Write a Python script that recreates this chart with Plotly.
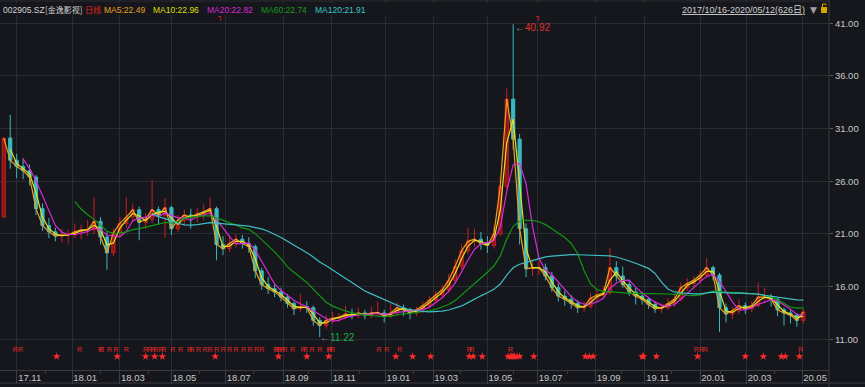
import pandas as pd
import plotly.graph_objects as go

# ---- data: 5-trading-day candles (002905.SZ, 2017/10/16 - 2020/05/12) ----
OPEN = [22.6, 30.1, 28.0, 27.4, 27.0, 26.4, 23.4, 21.8, 21.2, 20.8,
        20.9, 20.9, 21.2, 21.4, 21.4, 22.2, 20.7, 19.2, 21.1, 22.0,
        22.6, 23.3, 22.1, 22.4, 23.3, 22.8, 23.5, 21.5, 22.3, 22.8,
        22.6, 22.9, 23.1, 23.4, 20.0, 19.6, 20.1, 20.5, 20.1, 19.8,
        17.5, 16.2, 15.8, 15.5, 15.0, 14.4, 13.9, 14.1, 14.0, 12.8,
        12.3, 12.8, 13.0, 13.1, 13.4, 13.3, 13.5, 13.3, 13.5, 13.5,
        13.2, 13.5, 14.0, 13.8, 13.5, 13.8, 14.2, 14.7, 15.2, 15.7,
        16.6, 17.9, 19.4, 20.3, 20.5, 20.1, 19.9, 21.0, 25.5, 33.8,
        30.0, 21.5, 17.7, 17.8, 17.8, 17.0, 15.9, 15.1, 14.8, 14.4,
        14.0, 14.1, 14.9, 15.2, 15.4, 17.8, 17.0, 16.2, 15.5, 15.1,
        14.8, 14.3, 13.9, 14.0, 14.4, 14.8, 15.9, 16.3, 16.6, 17.1,
        17.8, 17.1, 14.0, 13.4, 13.7, 14.2, 13.9, 14.2, 15.0, 15.0,
        14.8, 13.8, 13.5, 13.3, 12.8]
HIGH = [30.1, 32.3, 28.6, 28.2, 27.6, 26.6, 23.9, 22.5, 21.6, 21.5,
        21.4, 22.0, 21.9, 22.3, 24.5, 22.6, 21.2, 21.5, 22.6, 24.5,
        23.9, 23.6, 23.0, 26.1, 23.6, 24.4, 23.7, 22.8, 23.3, 23.4,
        23.5, 23.8, 24.5, 23.6, 20.8, 20.9, 21.0, 20.9, 20.7, 20.0,
        17.8, 16.9, 16.2, 15.9, 15.3, 14.6, 15.3, 14.6, 14.2, 13.1,
        13.3, 13.6, 13.5, 14.2, 13.9, 14.0, 13.8, 14.1, 14.6, 13.8,
        14.4, 14.5, 14.3, 14.0, 14.1, 14.6, 15.1, 15.6, 16.2, 17.2,
        18.6, 20.0, 21.6, 21.5, 21.2, 20.8, 21.8, 26.5, 34.8, 40.92,
        30.5, 22.0, 18.6, 18.5, 18.2, 17.4, 16.3, 15.6, 15.2, 14.7,
        14.6, 15.4, 15.7, 16.0, 19.7, 18.4, 17.9, 16.6, 15.9, 15.5,
        15.0, 14.6, 14.4, 14.9, 15.2, 16.4, 16.8, 17.0, 17.5, 18.7,
        18.0, 17.3, 14.4, 14.1, 14.8, 14.5, 14.6, 16.4, 15.9, 15.3,
        14.9, 14.0, 13.8, 13.5, 13.9]
LOW = [22.6, 27.2, 26.3, 26.2, 25.6, 22.8, 21.3, 20.6, 20.3, 20.2,
       20.1, 20.6, 20.5, 20.8, 21.0, 20.0, 17.6, 18.9, 20.6, 21.6,
       22.1, 20.4, 21.5, 22.0, 21.9, 20.6, 20.9, 21.2, 21.8, 21.5,
       22.1, 22.3, 22.7, 18.5, 19.0, 19.3, 19.7, 19.6, 19.2, 16.8,
       15.7, 15.3, 15.0, 14.6, 14.0, 13.3, 13.6, 13.5, 12.3, 11.22,
       12.0, 12.5, 12.7, 12.9, 12.9, 13.0, 12.9, 13.0, 13.2, 12.6,
       13.0, 13.3, 13.2, 12.9, 13.2, 13.5, 13.9, 14.4, 14.9, 15.4,
       16.3, 17.6, 19.1, 19.8, 19.5, 19.2, 19.6, 20.8, 25.3, 29.0,
       20.0, 16.9, 17.0, 17.1, 16.6, 15.5, 14.6, 14.2, 13.9, 13.5,
       13.6, 13.9, 14.5, 14.9, 15.2, 16.5, 15.9, 15.1, 14.3, 14.3,
       13.9, 13.5, 13.5, 13.8, 14.1, 14.6, 15.6, 15.8, 16.3, 16.9,
       16.6, 11.7, 12.6, 12.9, 13.4, 13.4, 13.6, 14.0, 14.5, 14.1,
       13.2, 12.3, 12.5, 12.2, 12.5]
CLOSE = [30.1, 28.0, 27.4, 27.0, 26.4, 23.4, 21.8, 21.2, 20.8, 20.9,
         20.9, 21.2, 21.4, 21.4, 22.2, 20.7, 19.2, 21.1, 22.0, 22.6,
         23.3, 22.1, 22.4, 23.3, 22.8, 23.5, 21.5, 22.3, 22.8, 22.6,
         22.9, 23.1, 23.4, 20.0, 19.6, 20.1, 20.5, 20.1, 19.8, 17.5,
         16.2, 15.8, 15.5, 15.0, 14.4, 13.9, 14.1, 14.0, 12.8, 12.3,
         12.8, 13.0, 13.1, 13.4, 13.3, 13.5, 13.3, 13.5, 13.5, 13.2,
         13.5, 14.0, 13.8, 13.5, 13.8, 14.2, 14.7, 15.2, 15.7, 16.6,
         17.9, 19.4, 20.3, 20.5, 20.1, 19.9, 21.0, 25.5, 33.8, 30.0,
         21.5, 17.7, 17.8, 17.8, 17.0, 15.9, 15.1, 14.8, 14.4, 14.0,
         14.1, 14.9, 15.2, 15.4, 17.8, 17.0, 16.2, 15.5, 15.1, 14.8,
         14.3, 13.9, 14.0, 14.4, 14.8, 15.9, 16.3, 16.6, 17.1, 17.8,
         17.1, 14.0, 13.4, 13.7, 14.2, 13.9, 14.2, 15.0, 15.0, 14.8,
         13.8, 13.5, 13.3, 12.8, 13.6]

MA_NAMES = ["MA5", "MA10", "MA20", "MA60", "MA120"]
MA_DAYS = [5, 10, 20, 60, 120]
MA_HEADER_VALUES = [22.49, 22.96, 22.82, 22.74, 21.91]
MA_COLORS = ["#f0a020", "#e6e020", "#d82ad8", "#119a11", "#3fbcc4"]
MA_TEXT_COLORS = ["#e8a020", "#dede10", "#d828d8", "#1a9a1a", "#3fc4c4"]

# trading-day index of "R" flags and star signals
R_DAYS = [11, 15, 61, 77, 78, 84, 89, 97, 112, 115, 118, 120, 124, 126, 133, 139,
          146, 148, 153, 158, 162, 167, 172, 177, 182, 188, 193, 198, 202, 213,
          214, 216, 218, 220, 226, 234, 236, 241, 247, 254, 255, 257, 293, 299,
          309, 363, 365, 395, 539, 543, 546, 620]
STAR_DAYS = [43, 90, 112, 119, 125, 166, 215, 237, 254, 306, 319, 333, 363, 366,
             373, 393, 395, 396, 397, 398, 400, 402, 413, 453, 456, 459, 497, 498,
             508, 540, 577, 591, 605, 608, 619]

TICKER_CODE = "002905.SZ"
TICKER_NAME = "[金逸影视]"
PERIOD = "日线"
RANGE_TEXT = "2017/10/16-2020/05/12(626日)"
Y_TICKS = [11, 16, 21, 26, 31, 36, 41]

# ---- trading calendar (SSE/SZSE) ----
HOLIDAYS = ["2018-01-01", "2018-02-15", "2018-02-16", "2018-02-19", "2018-02-20", "2018-02-21",
            "2018-04-05", "2018-04-06", "2018-04-30", "2018-05-01", "2018-06-18", "2018-09-24",
            "2018-10-01", "2018-10-02", "2018-10-03", "2018-10-04", "2018-10-05", "2018-12-31",
            "2019-01-01", "2019-02-04", "2019-02-05", "2019-02-06", "2019-02-07", "2019-02-08",
            "2019-04-05", "2019-05-01", "2019-05-02", "2019-05-03", "2019-06-07", "2019-09-13",
            "2019-10-01", "2019-10-02", "2019-10-03", "2019-10-04", "2019-10-07",
            "2020-01-01", "2020-01-24", "2020-01-27", "2020-01-28", "2020-01-29", "2020-01-30",
            "2020-01-31", "2020-04-06", "2020-05-01", "2020-05-04", "2020-05-05"]
days = pd.bdate_range("2017-10-16", "2020-05-12")
days = days[~days.isin(pd.to_datetime(HOLIDAYS))]
dser = pd.Series(range(len(days)), index=days)
month_first = dser.groupby([days.year, days.month]).min()
major_vals, major_text, minor_vals = [], [], []
for (yy, mm), idx in month_first.items():
    if idx == 0:
        continue
    if mm % 2 == 1:
        major_vals.append(idx)
        major_text.append(f"{yy % 100:02d}.{mm:02d}")
    else:
        minor_vals.append(idx)

GROUP = 5
xc = [GROUP * i + 2 for i in range(len(CLOSE))]
close_s = pd.Series(CLOSE)

BG = "#15171c"
GRID = "#2a2c31"
AXIS = "#3a3c42"
FONT = "Liberation Sans, Noto Sans CJK SC, sans-serif"
CJK = "Noto Sans CJK SC, sans-serif"

fig = go.Figure()
fig.add_trace(go.Candlestick(
    x=xc, open=OPEN, high=HIGH, low=LOW, close=CLOSE,
    increasing=dict(line=dict(color="#c81f1f", width=1), fillcolor="#8e1414"),
    decreasing=dict(line=dict(color="#3cb8c0", width=1), fillcolor="#3cb8c0"),
    whiskerwidth=0, hoverinfo="skip", showlegend=False))

for name, nd, col in zip(MA_NAMES, MA_DAYS, MA_COLORS):
    w = nd // GROUP
    ma = close_s.rolling(w, min_periods=w).mean()
    fig.add_trace(go.Scatter(x=xc, y=ma, mode="lines", line=dict(color=col, width=1.2),
                             hoverinfo="skip", showlegend=False, name=name))

fig.add_trace(go.Scatter(x=R_DAYS, y=[9.94] * len(R_DAYS), mode="text", text=["R"] * len(R_DAYS),
                         textfont=dict(color="#e02828", size=7, family=FONT),
                         hoverinfo="skip", showlegend=False))
fig.add_trace(go.Scatter(x=STAR_DAYS, y=[9.37] * len(STAR_DAYS), mode="markers",
                         marker=dict(symbol="star", size=6, color="#ff2a2a", line=dict(width=0)),
                         hoverinfo="skip", showlegend=False))

# extremes
imax = max(range(len(HIGH)), key=lambda i: HIGH[i])
imin = min(range(len(LOW)), key=lambda i: LOW[i])
ann = [
    dict(x=xc[imax], y=HIGH[imax], xref="x", yref="y", xanchor="left", yanchor="middle",
         yshift=-3, showarrow=False,
         text=f"<span style='color:#9a9a9a'>←</span>{HIGH[imax]:.2f}",
         font=dict(color="#e03030", size=10, family=FONT)),
    dict(x=xc[imin], y=LOW[imin], xref="x", yref="y", xanchor="left", yanchor="middle",
         xshift=-2, yshift=-1, showarrow=False,
         text=f"<span style='color:#9a9a9a'>←</span>{LOW[imin]:.2f}",
         font=dict(color="#1faa44", size=10, family=FONT)),
]

W = 829.0
H = 370.0
def px(x):
    return x / W
def py(y):
    return 1 - y / H

header = [(1, TICKER_CODE, "#d2d2d2", FONT, 8.5), (43, TICKER_NAME, "#d2d2d2", CJK, 8),
          (83, PERIOD, "#e82020", CJK, 8)]
ma_x = [102, 151, 205, 259, 313]
for xx, nm, v, c in zip(ma_x, MA_NAMES, MA_HEADER_VALUES, MA_TEXT_COLORS):
    header.append((xx, f"{nm}:{v:.2f}", c, FONT, 8.5))
for xx, t, c, fam, sz in header:
    ann.append(dict(x=px(xx), y=py(10), xref="paper", yref="paper", xanchor="left",
                    yanchor="middle", showarrow=False, text=t,
                    font=dict(color=c, size=sz, family=fam)))
ann.append(dict(x=px(807), y=py(10), xref="paper", yref="paper", xanchor="right",
                yanchor="middle", showarrow=False, text=f"<u>{RANGE_TEXT}</u>",
                font=dict(color="#d2d2d2", size=9, family=FONT)))
ann.append(dict(x=px(808), y=py(10), xref="paper", yref="paper", xanchor="left",
                yanchor="middle", showarrow=False, text="▼",
                font=dict(color="#a0a0a0", size=9, family="DejaVu Sans")))
for xx in (220, 538):
    ann.append(dict(x=px(xx), y=py(17), xref="paper", yref="paper", xanchor="center",
                    yanchor="middle", showarrow=False, text="┐",
                    font=dict(color="#e02020", size=8, family="DejaVu Sans")))

shapes = [
    dict(type="rect", xref="paper", yref="paper", x0=0, x1=1, y0=py(15), y1=py(3),
         fillcolor=BG, line=dict(width=0), layer="above"),
    dict(type="line", xref="paper", yref="paper", x0=0, x1=1, y0=py(1), y1=py(1),
         line=dict(color=GRID, width=1)),
    dict(type="line", xref="paper", yref="paper", x0=0, x1=px(865), y0=py(383), y1=py(383),
         line=dict(color=AXIS, width=1)),
    dict(type="line", xref="paper", yref="paper", x0=1, x1=1, y0=py(0), y1=py(387),
         line=dict(color=AXIS, width=1)),
    dict(type="rect", xref="paper", yref="paper", x0=px(821), x1=px(827), y0=py(13), y1=py(7),
         fillcolor="#d9a400", line=dict(width=0)),
    dict(type="path", xref="paper", yref="paper",
         path=f"M {px(822.5)},{py(7)} L {px(822.5)},{py(4)} L {px(826)},{py(4)} L {px(826)},{py(5.5)}",
         line=dict(color="#d9a400", width=1)),
]

fig.update_layout(
    width=865, height=387,
    margin=dict(l=0, r=36, t=0, b=17),
    paper_bgcolor=BG, plot_bgcolor=BG,
    showlegend=False,
    annotations=ann, shapes=shapes,
    xaxis=dict(range=[-0.93, 641.9], rangeslider=dict(visible=False),
               tickvals=major_vals, ticktext=major_text,
               showgrid=True, gridcolor=GRID, gridwidth=1, zeroline=False,
               showline=True, linecolor=AXIS, linewidth=1,
               ticks="outside", ticklen=13, tickcolor=AXIS,
               ticklabelstandoff=-14, ticklabelshift=13,
               tickfont=dict(color="#c8c8c8", size=9.5, family=FONT),
               minor=dict(tickvals=minor_vals, ticks="outside", ticklen=3,
                          tickcolor=AXIS, showgrid=False),
               fixedrange=True),
    yaxis=dict(range=[8.085, 43.21], side="right",
               tickvals=Y_TICKS, ticktext=[f"{v:.2f}" for v in Y_TICKS],
               showgrid=True, gridcolor=GRID, gridwidth=1, zeroline=False,
               showline=False, ticks="outside", ticklen=3, tickcolor="#5a5c60",
               tickfont=dict(color="#c8c8c8", size=9.5, family=FONT),
               fixedrange=True),
)

fig.write_html("out.html", config={"displayModeBar": False},
               post_script="document.body.style.margin='0';document.body.style.background='%s';" % BG)
